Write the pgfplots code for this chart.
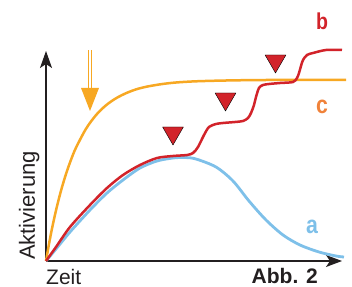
\documentclass[border=0pt]{standalone}
\usepackage{pgfplots}
\pgfplotsset{compat=1.18}
\usepackage{fontspec}
\setmainfont{Liberation Sans}
\usetikzlibrary{arrows.meta}
\definecolor{corange}{RGB}{247,168,35}
\definecolor{cred}{RGB}{210,35,42}
\definecolor{cblue}{RGB}{126,192,233}
\definecolor{clabc}{RGB}{240,130,58}
\definecolor{caxis}{RGB}{35,31,32}
\begin{document}
\begin{tikzpicture}
\begin{axis}[
  scale only axis, width=296bp, height=210bp,
  xmin=46, xmax=342, ymin=0, ymax=210,
  axis x line=bottom, axis y line=left,
  xtick=\empty, ytick=\empty,
  clip=false,
  x axis line style={line width=1.3bp, caxis, -{Stealth[length=16bp,width=12bp,inset=4bp]}},
  y axis line style={line width=1.3bp, caxis, -{Stealth[length=17bp,width=12bp,inset=4bp]}},
]
% a (blue)
\addplot[cblue, line width=2.8bp, smooth] coordinates {
(46,0) (56,12) (70,29) (90,51) (107,68) (123,81) (140,93) (157,100) (173,103) (185,103.5) (196,102) (216,94) (233,80) (249,60) (266,41) (283,26) (300,16) (319,9) (336,5) (344,4)};
% c (orange)
\addplot[corange, line width=2.5bp, smooth] coordinates {
(46,0) (49,17) (52,32.4) (56,50.6) (61,70.3) (66,87.0) (71,101.2) (76,113.3) (86,132.2) (96,145.9) (106,155.7) (116,162.7) (126,167.8) (136,171.6) (146,174.2) (161,176.8) (176,178.5) (196,179.7) (226,180.5) (266,181) (346,181)};
% b (red)
\addplot[cred, line width=2.5bp, smooth] coordinates {
(46,0) (56,14) (70,34) (90,56) (107,73) (123,86) (140,96) (157,103) (173,105) (187,106) (193,108) (198,114) (204,126) (209,134) (216,137) (223,138) (235,139) (243,140) (248,143) (251,148) (254,156) (256,164) (259,173) (263,176) (269,177) (280,178) (293,179) (297,183) (299,188) (301,195) (303,201) (307,206) (313,208) (326,211) (342,211)};
% triangles
\addplot[only marks, mark=triangle*, mark size=12bp, mark options={rotate=180, fill=cred, draw=none}] coordinates {
(173,128) (225.5,162) (275.5,200)};
% orange arrow
\draw[corange, line width=1.4bp, double=white, double distance=1.2bp] (axis cs:90,211) -- (axis cs:90,172);
\fill[corange] (axis cs:81,173) -- (axis cs:99,173) -- (axis cs:90,150) -- cycle;
% labels
\node[rotate=90, anchor=base west, inner sep=0pt, font=\fontsize{22bp}{24bp}\selectfont, caxis] at (axis cs:35,1) {Aktivierung};
\node[anchor=base west, inner sep=0pt, font=\fontsize{21bp}{23bp}\selectfont, caxis] at (axis cs:46,-23) {Zeit};
\node[anchor=base east, inner sep=0pt, font=\fontsize{21bp}{23bp}\selectfont\bfseries, caxis] at (axis cs:318,-22) {Abb. 2};
\node[anchor=base, inner sep=0pt, font=\fontsize{23bp}{25bp}\selectfont\bfseries, cred] at (axis cs:322,232) {\scalebox{0.85}[1]{b}};
\node[anchor=base, inner sep=0pt, font=\fontsize{25bp}{27bp}\selectfont\bfseries, clabc] at (axis cs:322,148) {\scalebox{0.85}[1]{c}};
\node[anchor=base, inner sep=0pt, font=\fontsize{25bp}{27bp}\selectfont\bfseries, cblue] at (axis cs:312,28) {\scalebox{0.85}[1]{a}};
\coordinate (bbl) at (axis cs:0,-26);
\coordinate (bbr) at (axis cs:352,261);
\end{axis}
\pgfresetboundingbox
\path (bbl) rectangle (bbr);
\end{tikzpicture}
\end{document}
